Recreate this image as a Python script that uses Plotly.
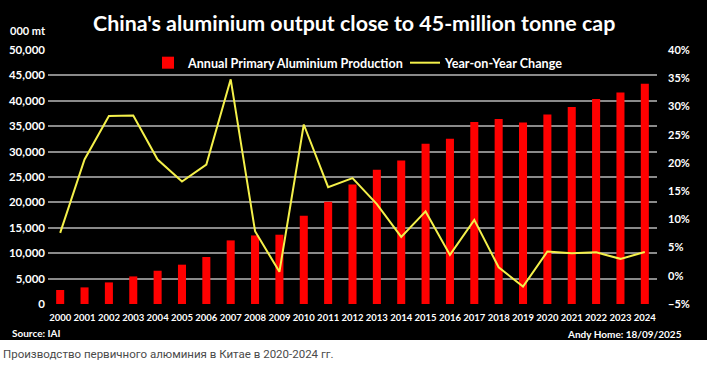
import plotly.graph_objects as go

years = [str(y) for y in range(2000, 2025)]
production = [2760, 3270, 4250, 5430, 6550, 7740, 9250, 12520, 13500, 13640,
              17380, 20140, 23540, 26440, 28270, 31560, 32540, 35830, 36420, 35750,
              37320, 38780, 40350, 41650, 43370]
yoy_change = [7.6, 20.6, 28.3, 28.4, 20.6, 16.7, 19.7, 34.8, 7.9, 0.7,
              26.8, 15.7, 17.3, 12.7, 6.9, 11.4, 3.7, 9.9, 1.5, -1.9,
              4.3, 4.0, 4.15, 3.0, 4.2]

W, H = 707, 365
L, R, T, B = 48, 50, 50, 61
PW, PH = W - L - R, H - T - B


def px(x):
    return (x - L) / PW


def py(y):
    return (H - B - y) / PH


FONT = "Lato"
bold = dict(family=FONT, color="white", weight="bold")

fig = go.Figure()
fig.add_trace(go.Bar(
    x=years, y=production, name="Annual Primary Aluminium Production",
    marker=dict(color="#ff0000", line=dict(width=0)), yaxis="y",
))
fig.add_trace(go.Scatter(
    x=years, y=yoy_change, name="Year-on-Year Change", mode="lines",
    line=dict(color="#f4f04a", width=2), yaxis="y2",
))

fig.update_layout(
    width=W, height=H,
    margin=dict(l=L, r=R, t=T, b=B, autoexpand=False),
    paper_bgcolor="black", plot_bgcolor="black",
    bargap=0.67,
    showlegend=True,
    legend=dict(
        orientation="h", x=px(148), xanchor="left", y=py(63), yanchor="middle",
        font=dict(size=12.6, **bold), bgcolor="rgba(0,0,0,0)",
        itemwidth=30, traceorder="normal",
        entrywidth=212, entrywidthmode="pixels",
    ),
    xaxis=dict(
        type="category", showgrid=False, zeroline=False, showline=False,
        ticks="", tickangle=0, automargin=False,
        tickfont=dict(size=9.5, **bold),
        ticklabelstandoff=6,
    ),
    yaxis=dict(
        range=[0, 50000], dtick=5000, tickformat=",", showgrid=True,
        gridcolor="#8a8a8a", gridwidth=1.5, zeroline=False, showline=False,
        ticks="", tickfont=dict(size=11.5, **bold), ticklabelstandoff=2,
        automargin=False,
    ),
    yaxis2=dict(
        range=[-5, 40], dtick=5, ticksuffix="%", overlaying="y", side="right",
        showgrid=False, zeroline=False, showline=False, ticks="",
        tickfont=dict(size=11, **bold), ticklabelstandoff=10, automargin=False,
    ),
    annotations=[
        dict(text="China's aluminium output close to 45-million tonne cap",
             x=px(354), y=py(23), xref="paper", yref="paper", showarrow=False,
             xanchor="center", yanchor="middle", font=dict(size=21.4, **bold)),
        dict(text="000 mt", x=px(48), y=py(31), xref="paper", yref="paper",
             showarrow=False, xanchor="right", yanchor="middle",
             font=dict(size=11, **bold)),
        dict(text="Source: IAI", x=px(10), y=py(333), xref="paper", yref="paper",
             showarrow=False, xanchor="left", yanchor="middle",
             font=dict(size=10, **bold)),
        dict(text="Andy Home: 18/09/2025", x=px(684), y=py(334), xref="paper",
             yref="paper", showarrow=False, xanchor="right", yanchor="middle",
             font=dict(size=10, **bold)),
        dict(text="Производство первичного алюминия в Китае в 2020-2024 гг.",
             x=px(1), y=py(354), xref="paper", yref="paper", showarrow=False,
             xanchor="left", yanchor="middle",
             font=dict(size=11.5, family="Roboto", color="#4a4a4a")),
    ],
    shapes=[
        dict(type="rect", xref="paper", yref="paper", x0=px(-5), x1=px(W + 5),
             y0=py(340), y1=py(H + 5), fillcolor="white", line=dict(width=0),
             layer="above"),
    ],
)

fig.write_html(
    "out.html",
    config={"displayModeBar": False},
    post_script="document.body.style.margin='0';document.body.style.overflow='hidden';",
)
